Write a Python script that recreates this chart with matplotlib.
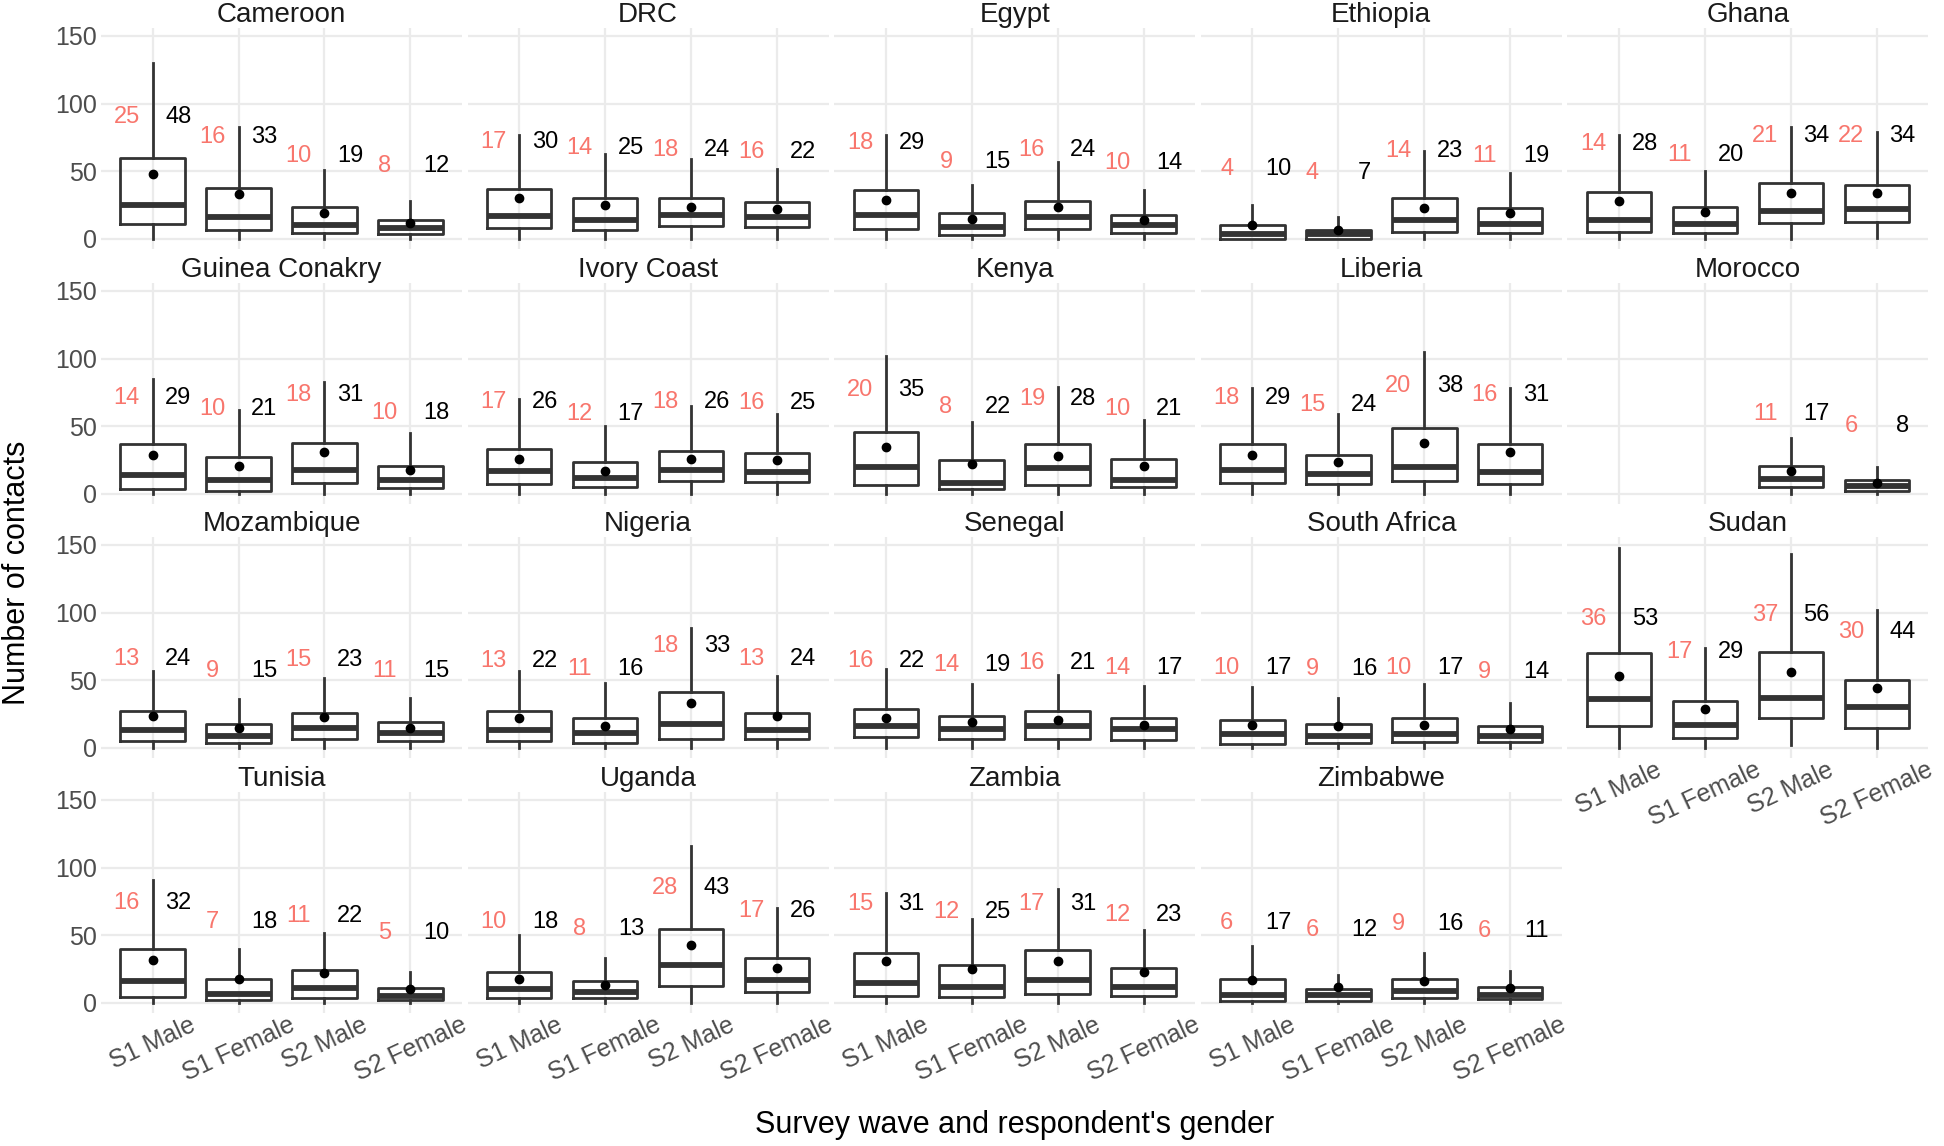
import numpy as np
import matplotlib
matplotlib.use("Agg")
import matplotlib.pyplot as plt

plt.rcParams['font.family'] = ['Liberation Sans', 'DejaVu Sans']

countries = ["Cameroon", "DRC", "Egypt", "Ethiopia", "Ghana",
             "Guinea Conakry", "Ivory Coast", "Kenya", "Liberia", "Morocco",
             "Mozambique", "Nigeria", "Senegal", "South Africa", "Sudan",
             "Tunisia", "Uganda", "Zambia", "Zimbabwe"]
groups = ["S1 Male", "S1 Female", "S2 Male", "S2 Female"]
nan = np.nan

# medians (red labels)
medians = [[25, 16, 10, 8], [17, 14, 18, 16], [18, 9, 16, 10], [4, 4, 14, 11],
           [14, 11, 21, 22], [14, 10, 18, 10], [17, 12, 18, 16], [20, 8, 19, 10],
           [18, 15, 20, 16], [nan, nan, 11, 6], [13, 9, 15, 11], [13, 11, 18, 13],
           [16, 14, 16, 14], [10, 9, 10, 9], [36, 17, 37, 30], [16, 7, 11, 5],
           [10, 8, 28, 17], [15, 12, 17, 12], [6, 6, 9, 6]]
# means (black labels, dots)
means = [[48, 33, 19, 12], [30, 25, 24, 22], [29, 15, 24, 14], [10, 7, 23, 19],
         [28, 20, 34, 34], [29, 21, 31, 18], [26, 17, 26, 25], [35, 22, 28, 21],
         [29, 24, 38, 31], [nan, nan, 17, 8], [24, 15, 23, 15], [22, 16, 33, 24],
         [22, 19, 21, 17], [17, 16, 17, 14], [53, 29, 56, 44], [32, 18, 22, 10],
         [18, 13, 43, 26], [31, 25, 31, 23], [17, 12, 16, 11]]
q1 = [[11, 7, 4.5, 3.5], [8, 7, 9.5, 8.5], [7.5, 3, 7.5, 4.5], [0, 0, 5.5, 4.5],
      [5.5, 4.5, 12, 12.5], [4, 2, 8, 4.5], [7.5, 5.5, 9.5, 9], [7, 4, 7, 5],
      [8, 7.5, 9.5, 7.5], [nan, nan, 5.5, 2.5], [5.5, 3.5, 7, 5.5], [5.5, 3.5, 7, 6.5],
      [8, 6.5, 6.5, 6], [3, 4, 4.5, 4.5], [16.5, 7.5, 22.5, 14.5], [4.5, 2.5, 4, 2.5],
      [4, 3.5, 12.5, 8], [5.5, 4.5, 7, 5.5], [1.5, 1.5, 4, 3]]
q3 = [[60, 38, 24, 14], [37, 30, 30, 27], [36, 19, 28, 18], [10, 7, 30, 23],
      [35, 24, 41, 40], [37, 27, 38, 21], [33, 24, 32, 30], [46, 25, 37, 26],
      [37, 29, 49, 37], [nan, nan, 20.5, 10], [27, 18, 26, 19], [27, 22, 41, 26],
      [29, 24, 27, 22.5], [21, 18, 22, 16], [70, 35, 71, 50], [40, 18, 24.5, 11],
      [23, 16, 55, 33], [37, 28, 39, 25.5], [18, 10, 18, 12]]
whisker_hi = [[130, 83, 51, 28], [77, 63, 59, 52], [77, 40, 57, 36], [25, 16, 65, 49],
              [77, 50, 83, 79], [85, 62, 83, 45], [70, 50, 65, 59], [102, 53, 79, 55],
              [78, 59, 105, 78], [nan, nan, 41, 20], [57, 36, 52, 37], [57, 48, 89, 53],
              [58, 47, 54, 46], [45, 37, 47, 33], [148, 74, 143, 102], [91, 40, 52, 23],
              [50, 33, 116, 70], [81, 62, 84, 54], [42, 21, 37, 24]]
whisker_lo = [[0, 0, 0, 0]] * 4 + [[0, 0, 0, 1]] + [[0, 0, 0, 0]] * 9 + \
             [[0, 0, 2, 0]] + [[0, 0, 0, 0]] * 4

W, H = 1944, 1146
BOX = "#333333"; RED = "#F8766D"; GRID = "#EBEBEB"; TICKC = "#4D4D4D"
LABEL_OFFSET = 42

fig = plt.figure(figsize=(W / 100, H / 100), dpi=100)

ncol = 5
col_left = [101 + c * 366.6 for c in range(ncol)]
row_top = [28, 283, 537, 792]
pw, ph = 361, 221

for i, name in enumerate(countries):
    r, c = divmod(i, ncol)
    ax = fig.add_axes([col_left[c] / W, 1 - (row_top[r] + ph) / H, pw / W, ph / H])
    stats, pos = [], []
    for j in range(4):
        if np.isnan(medians[i][j]):
            continue
        stats.append(dict(med=medians[i][j], q1=q1[i][j], q3=q3[i][j],
                          whislo=whisker_lo[i][j], whishi=whisker_hi[i][j],
                          mean=means[i][j], fliers=[]))
        pos.append(j + 1)
        ax.text(j + 1 - 0.3, means[i][j] + LABEL_OFFSET, f"{medians[i][j]:.0f}",
                color=RED, fontsize=17, ha="center", va="center")
        ax.text(j + 1 + 0.3, means[i][j] + LABEL_OFFSET, f"{means[i][j]:.0f}",
                color="black", fontsize=17, ha="center", va="center")
    ax.bxp(stats, positions=pos, widths=0.75, showmeans=True, showcaps=False,
           showfliers=False,
           boxprops=dict(color=BOX, lw=2.0),
           whiskerprops=dict(color=BOX, lw=2.0),
           medianprops=dict(color=BOX, lw=4.2, solid_capstyle="butt"),
           meanprops=dict(marker="o", markerfacecolor="black",
                          markeredgecolor="black", markersize=6))
    ax.set_xlim(0.4, 4.6)
    ax.set_ylim(-7.4, 155.9)
    ax.set_xticks([1, 2, 3, 4])
    ax.set_yticks([0, 50, 100, 150])
    ax.set_axisbelow(True)
    ax.grid(True, color=GRID, lw=1.6)
    for s in ax.spines.values():
        s.set_visible(False)
    ax.tick_params(length=0, labelsize=18, colors=TICKC, pad=3)
    ax.tick_params(axis="x", pad=0)
    below = i + ncol < len(countries)
    if below:
        ax.set_xticklabels([])
    else:
        ax.set_xticklabels(groups, rotation=25)
    if c != 0:
        ax.set_yticklabels([])
    ax.set_title(name, fontsize=20, pad=2, color="#1A1A1A")

fig.text(17 / W, 1 - 573 / H, "Number of contacts", rotation=90,
         ha="center", va="center", fontsize=22)
fig.text(1015 / W, 1 - 1125 / H, "Survey wave and respondent's gender",
         ha="center", va="center", fontsize=22)

fig.savefig("out.png", dpi=100, facecolor="white")
